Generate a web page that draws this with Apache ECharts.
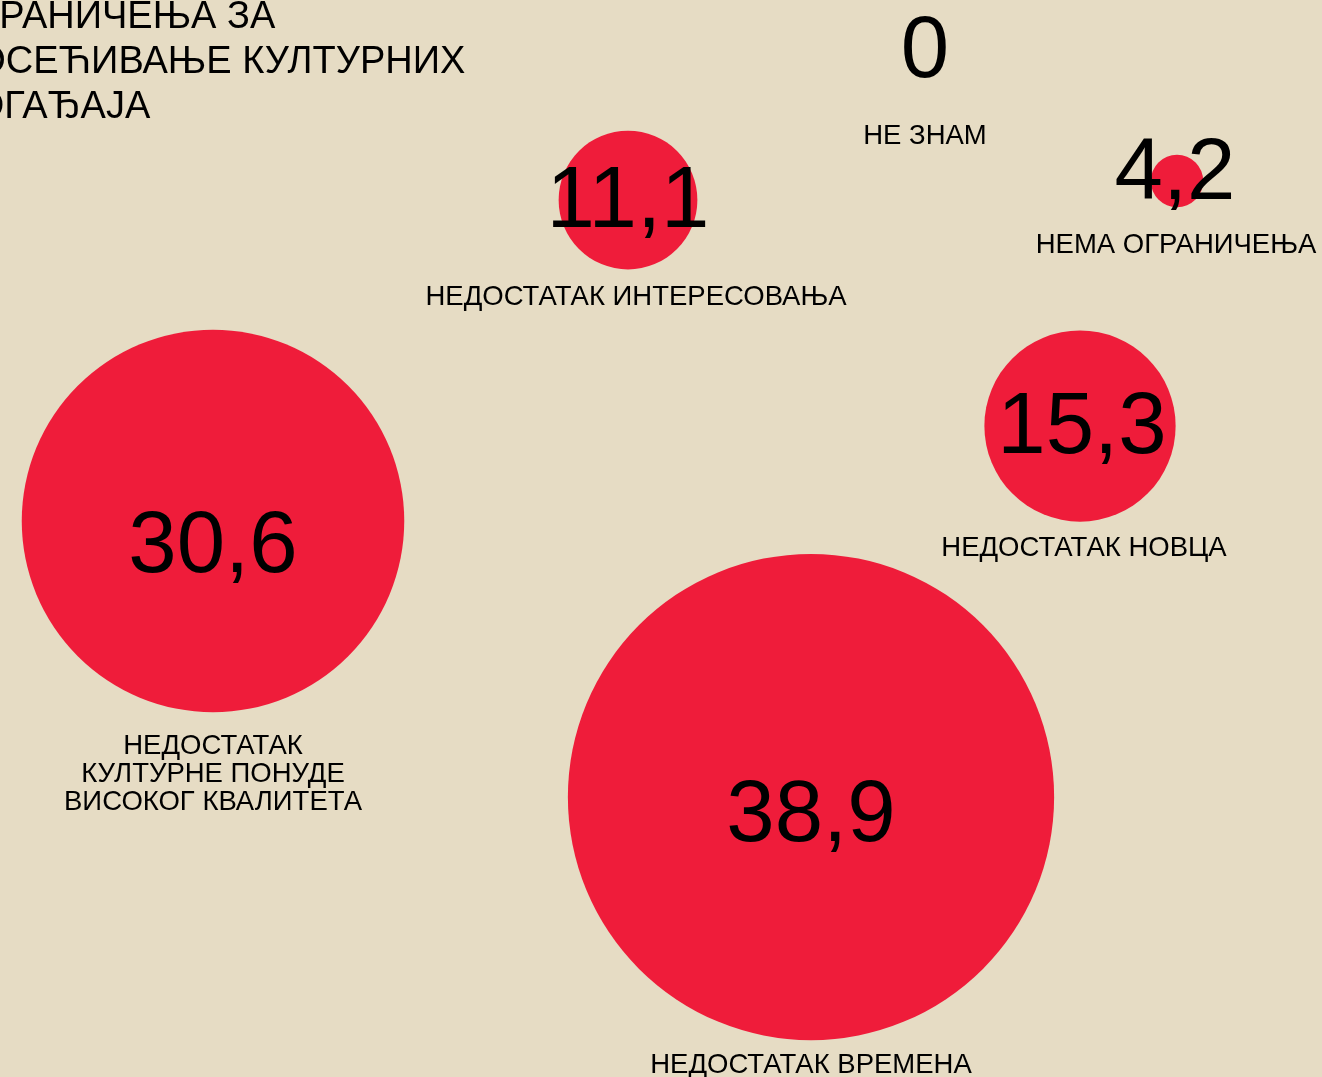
<!DOCTYPE html>
<html>
<head>
<meta charset="utf-8">
<title>Ограничења за посећивање културних догађаја</title>
<script src="https://cdn.jsdelivr.net/npm/echarts@6/dist/echarts.min.js"></script>
<style>
  html, body { margin: 0; padding: 0; background: #e6dcc4; }
  #chart { width: 1322px; height: 1077px; }
</style>
</head>
<body>
<div id="chart"></div>
<script>
const categories = [
  'НЕ ЗНАМ',
  'НЕМА ОГРАНИЧЕЊА',
  'НЕДОСТАТАК ИНТЕРЕСОВАЊА',
  'НЕДОСТАТАК НОВЦА',
  'НЕДОСТАТАК\nКУЛТУРНЕ ПОНУДЕ\nВИСОКОГ КВАЛИТЕТА',
  'НЕДОСТАТАК ВРЕМЕНА'
]
const values = [0, 4.2, 11.1, 15.3, 30.6, 38.9]
const titleText = 'ОГРАНИЧЕЊА ЗА\nПОСЕЋИВАЊЕ КУЛТУРНИХ\nДОГАЂАЈА'

// layout of the bubbles (pixel space of the canvas)
const centerX = [925, 1177, 628, 1080, 213, 811]
const centerY = [50, 181, 200, 426, 521, 797]
const numberOffset = [[0, 3], [-2, -6], [0, 3], [2, 3], [0, 27], [0, 20]]
const nameOffset = [[0, 86], [-1, 64], [8, 97], [4, 122], [0, 253], [0, 268]]

const chart = echarts.init(document.getElementById('chart'))

const bubbles = values.map(function (v, i) {
  return {
    name: categories[i],
    value: [centerX[i], centerY[i], v],
    label: { offset: numberOffset[i] }
  }
})
const names = values.map(function (v, i) {
  return {
    name: categories[i],
    value: [centerX[i], centerY[i], v],
    label: { offset: nameOffset[i] }
  }
})

chart.setOption({
  backgroundColor: '#e6dcc4',
  animation: false,
  grid: { left: 0, right: 0, top: 0, bottom: 0 },
  xAxis: { type: 'value', min: 0, max: 1322, show: false },
  yAxis: { type: 'value', min: 0, max: 1077, inverse: true, show: false },
  graphic: [
    {
      type: 'text',
      left: -51,
      top: -5,
      style: {
        text: titleText,
        fontFamily: 'Liberation Sans, Arial, sans-serif',
        fontSize: 38,
        lineHeight: 45,
        fill: '#000'
      }
    }
  ],
  series: [
    {
      type: 'scatter',
      data: bubbles,
      symbol: 'circle',
      symbolSize: function (val) {
        return val[2] * 12.5
      },
      itemStyle: { color: '#ef1c3a', opacity: 1 },
      label: {
        show: true,
        position: 'inside',
        formatter: function (p) {
          return String(p.value[2]).replace('.', ',')
        },
        fontFamily: 'Liberation Sans, Arial, sans-serif',
        fontSize: 87,
        color: '#000',
        textBorderWidth: 0
      },
      emphasis: { disabled: true },
      z: 2
    },
    {
      type: 'scatter',
      data: names,
      symbolSize: 0,
      itemStyle: { opacity: 1 },
      label: {
        show: true,
        position: 'inside',
        formatter: '{b}',
        fontFamily: 'Liberation Sans, Arial, sans-serif',
        fontSize: 27.5,
        lineHeight: 28,
        align: 'center',
        color: '#000',
        textBorderWidth: 0
      },
      emphasis: { disabled: true },
      z: 3
    }
  ]
})
</script>
</body>
</html>
